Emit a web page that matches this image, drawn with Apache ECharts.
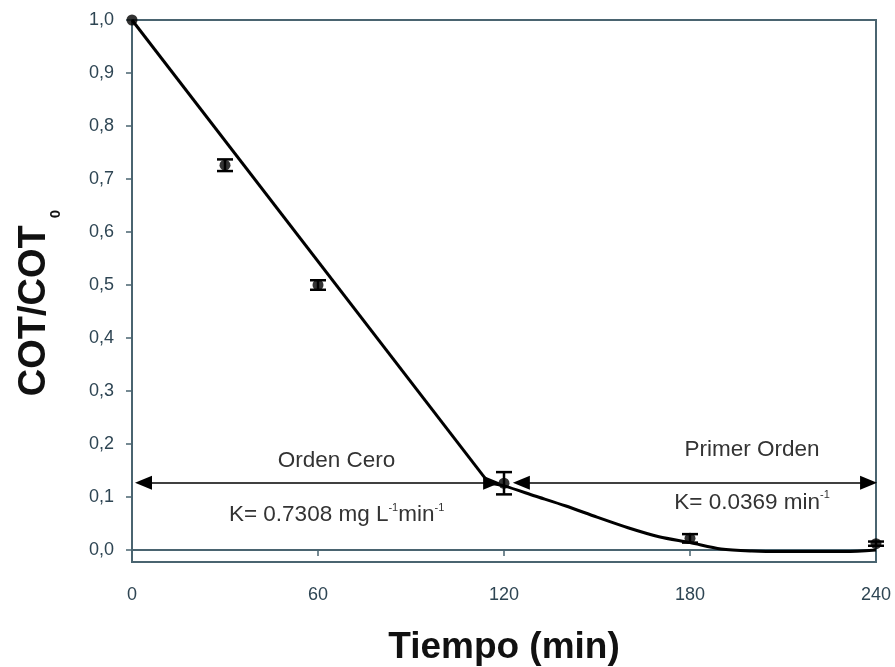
<!DOCTYPE html>
<html>
<head>
<meta charset="utf-8">
<script src="https://cdn.jsdelivr.net/npm/echarts@6/dist/echarts.min.js"></script>
<style>
html,body{margin:0;padding:0;background:#fff;}
#chart{width:895px;height:667px;}
</style>
</head>
<body>
<div id="chart"></div>
<script>
// Measured points (Tiempo in min, COT/COT0)
const timeMin = [0, 30, 60, 120, 180, 240];
const cotRatio = [1.0, 0.726, 0.50, 0.126, 0.022, 0.012];
const cotErr = [0, 0.011, 0.009, 0.021, 0.008, 0.004];

// Fitted curve: zero-order straight part and first-order part
const zeroOrderX = [0, 115];
const zeroOrderY = [1.0, 0.127];
const firstOrderX = [115, 120, 130, 140, 150, 160, 170, 180, 190, 200, 210, 220, 230, 240];
const firstOrderY = [0.127, 0.121, 0.102, 0.083, 0.062, 0.042, 0.025, 0.014, 0.002, -0.002, -0.003, -0.003, -0.003, 0.0];

// Axes
const xTicks = [0, 60, 120, 180, 240];
const yTicks = [0, 0.1, 0.2, 0.3, 0.4, 0.5, 0.6, 0.7, 0.8, 0.9, 1.0];

// Annotations (double arrows: arrowhead centres)
const arrowY = 0.127;
const zeroArrow = [3.7, 116];
const firstArrow = [125.6, 237.6];
const annotationText = ['Orden Cero', 'K= 0.7308 mg L', 'Primer Orden', 'K= 0.0369 min'];
const annotationX = [66, 66, 200, 200];
const annotationY = [0.168, 0.066, 0.19, 0.09];

const axisColor = '#4a6470';
const labelColor = '#2e4553';
const textColor = '#333333';
const FONT = 'Liberation Sans, Arial';

const chart = echarts.init(document.getElementById('chart'));

const zip = (a, b) => a.map((v, i) => [v, b[i]]);

const annFormat = [
  '{n|' + annotationText[0] + '}',
  '{n|' + annotationText[1] + '}{s|-1}{n|min}{s|-1}',
  '{n|' + annotationText[2] + '}',
  '{n|' + annotationText[3] + '}{s|-1}'
];

const option = {
  animation: false,
  backgroundColor: '#ffffff',
  grid: {
    left: 132, right: 19, top: 20, bottom: 105,
    outerBoundsMode: 'none', containLabel: false,
    show: true, borderColor: axisColor, borderWidth: 2, backgroundColor: 'transparent'
  },
  xAxis: {
    type: 'value', min: 0, max: 240, interval: 60,
    name: 'Tiempo (min)', nameLocation: 'middle', nameGap: 67,
    nameTextStyle: { fontFamily: FONT, fontSize: 37, fontWeight: 'bold', color: '#111' },
    axisLine: { show: true, lineStyle: { color: axisColor, width: 2 } },
    axisTick: { show: true, length: 6, lineStyle: { color: axisColor, width: 1.5 } },
    axisLabel: { margin: 24, fontFamily: FONT, fontSize: 18, color: labelColor },
    splitLine: { show: false }
  },
  yAxis: {
    type: 'value', min: -0.0226, max: 1.0,
    name: '{a|COT/COT}{b|0}', nameLocation: 'middle', nameRotate: 90, nameGap: 72,
    nameTextStyle: {
      padding: [0, 24, 0, 0],
      rich: {
        a: { fontFamily: FONT, fontSize: 38, fontWeight: 'bold', color: '#111', lineHeight: 44, verticalAlign: 'top' },
        b: { fontFamily: FONT, fontSize: 15, fontWeight: 'bold', color: '#111', lineHeight: 15, padding: [32, 0, 0, 7], verticalAlign: 'top' }
      }
    },
    axisLine: { show: true, lineStyle: { color: axisColor, width: 2 } },
    axisTick: { show: true, length: 6, customValues: yTicks, lineStyle: { color: axisColor, width: 1.5 } },
    axisLabel: {
      margin: 18, fontFamily: FONT, fontSize: 18, color: labelColor,
      customValues: yTicks,
      formatter: v => v.toFixed(1).replace('.', ',')
    },
    splitLine: { show: false }
  },
  series: [
    {
      type: 'line', data: zip(zeroOrderX, zeroOrderY), showSymbol: false, symbol: 'none',
      lineStyle: { color: '#000', width: 3 }, z: 3,
      markLine: {
        silent: true, symbol: ['triangle', 'triangle'], symbolSize: [14, 17],
        lineStyle: { color: '#000', width: 1.5, type: 'solid' }, label: { show: false },
        itemStyle: { color: '#000' },
        data: [
          [{ coord: [zeroArrow[0], arrowY] }, { coord: [zeroArrow[1], arrowY] }],
          [{ coord: [firstArrow[0], arrowY] }, { coord: [firstArrow[1], arrowY] }]
        ]
      },
      markPoint: {
        silent: true, symbol: 'circle', symbolSize: 1,
        itemStyle: { color: 'rgba(0,0,0,0)' },
        label: {
          show: true, position: 'inside',
          rich: {
            n: { fontFamily: FONT, fontSize: 22.5, color: textColor },
            s: { fontFamily: FONT, fontSize: 11, color: textColor, verticalAlign: 'top', lineHeight: 26 }
          }
        },
        data: annotationText.map((t, i) => ({
          coord: [annotationX[i], annotationY[i]], value: 0,
          label: { formatter: annFormat[i] }
        }))
      }
    },
    {
      type: 'line', data: zip(firstOrderX, firstOrderY), showSymbol: false, symbol: 'none', smooth: 0.3,
      lineStyle: { color: '#000', width: 3 }, z: 3
    },
    {
      type: 'custom', z: 4, clip: false,
      data: timeMin.map((t, i) => [t, cotRatio[i] - cotErr[i], cotRatio[i] + cotErr[i]]),
      renderItem: (params, api) => {
        const lo = api.coord([api.value(0), api.value(1)]);
        const hi = api.coord([api.value(0), api.value(2)]);
        if (Math.abs(lo[1] - hi[1]) < 3) return { type: 'group', children: [] };
        const w = 8;
        const st = { stroke: '#000', lineWidth: 2.5 };
        return {
          type: 'group',
          children: [
            { type: 'line', shape: { x1: lo[0], y1: lo[1], x2: hi[0], y2: hi[1] }, style: st },
            { type: 'line', shape: { x1: lo[0] - w, y1: lo[1], x2: lo[0] + w, y2: lo[1] }, style: st },
            { type: 'line', shape: { x1: hi[0] - w, y1: hi[1], x2: hi[0] + w, y2: hi[1] }, style: st }
          ]
        };
      }
    },
    {
      type: 'scatter', data: zip(timeMin, cotRatio), symbol: 'circle', symbolSize: 11, clip: false,
      itemStyle: { color: '#000' }, z: 5
    }
  ]
};
chart.setOption(option);
</script>
</body>
</html>
